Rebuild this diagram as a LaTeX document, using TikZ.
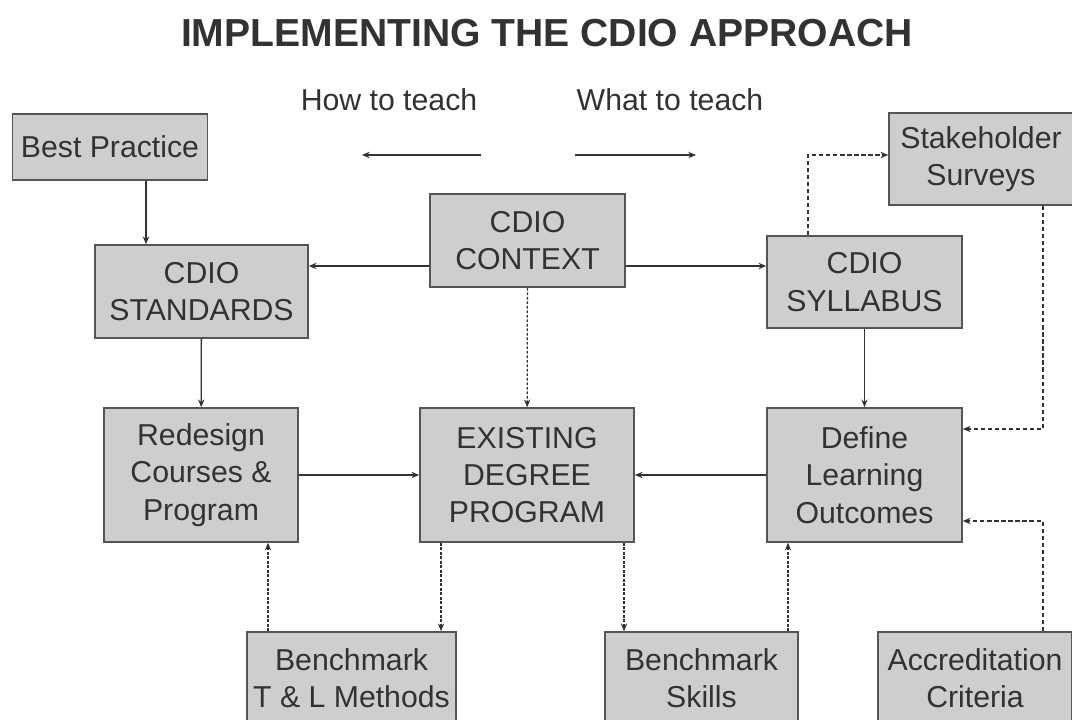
\documentclass[tikz,border=0pt]{standalone}
\usepackage{fontspec}
\setmainfont{Liberation Sans}
\usetikzlibrary{arrows.meta}
\definecolor{boxgray}{RGB}{206,206,206}
\definecolor{edgegray}{RGB}{85,85,85}
\definecolor{inkgray}{RGB}{50,50,50}
\tikzset{
    box/.style={draw=edgegray,line width=1.1pt,fill=boxgray,inner sep=0pt,align=center,text=inkgray,
        font=\fontsize{21.5}{26.5}\selectfont},
    link/.style={-{Stealth[length=5.5pt,width=4.5pt]},line width=0.9pt,draw=inkgray},
    fb/.style={link,dash pattern=on 3pt off 2pt},
    fine/.style={link,dash pattern=on 2pt off 1.2pt},
    caption/.style={text=inkgray,font=\fontsize{21.5}{26.5}\selectfont}
}

\begin{document}
\begin{tikzpicture}[x=0.025cm,y=-0.025cm]
  \useasboundingbox (0,0) rectangle (1072,720);
  \clip (0,0) rectangle (1072,720);

  % Title
  \node[text=inkgray,font=\bfseries\fontsize{27.8}{32}\selectfont] (title) at (547,33) {IMPLEMENTING THE CDIO APPROACH};
  \node[caption] (how) at (389,100) {How to teach};
  \node[caption] (what) at (670,100) {What to teach};
  \coordinate (howa) at (481,155);
  \coordinate (howb) at (362,155);
  \coordinate (whata) at (575,155);
  \coordinate (whatb) at (696,155);
  \draw[link] (howa) -- (howb);
  \draw[link] (whata) -- (whatb);

  % Top row
  \node[box,minimum width=4.875cm,minimum height=1.65cm] (best) at (110,147) {Best Practice};
  \node[box,minimum width=5.325cm,minimum height=2.325cm] (std) at (201.5,291.5) {CDIO\\STANDARDS};
  \node[box,minimum width=4.875cm,minimum height=2.325cm] (ctx) at (527.5,240.5) {CDIO\\CONTEXT};
  \node[box,minimum width=4.875cm,minimum height=2.3cm] (syl) at (864.5,282) {CDIO\\SYLLABUS};
  \node[box,minimum width=4.6cm,minimum height=2.3cm] (stake) at (981,159) {Stakeholder\\Surveys};

  % Middle row
  \node[box,minimum width=4.85cm,minimum height=3.35cm] (redo) at (201,475) {Redesign\\Courses \&\\Program};
  \node[box,minimum width=5.35cm,minimum height=3.35cm] (exist) at (527,475) {EXISTING\\DEGREE\\PROGRAM};
  \node[box,minimum width=4.875cm,minimum height=3.35cm] (def) at (864.5,475) {Define\\Learning\\Outcomes};

  % Bottom row
  \node[box,minimum width=5.225cm,minimum height=2.325cm] (tlm) at (351.5,678.5) {Benchmark\\T \& L Methods};
  \node[box,minimum width=4.825cm,minimum height=2.325cm] (skill) at (701.5,678.5) {Benchmark\\Skills};
  \node[box,minimum width=4.85cm,minimum height=2.325cm] (acc) at (975,678.5) {Accreditation\\Criteria};

  % Solid links
  \coordinate (bestx) at (146,0);
  \coordinate (rowa) at (0,266);
  \draw[link] (best.south -| bestx) -- (std.north -| bestx);
  \draw[link] (ctx.west |- rowa) -- (std.east |- rowa);
  \draw[link] (ctx.east |- rowa) -- (syl.west |- rowa);
  \draw[link] (std) -- (redo);
  \draw[link] (syl) -- (def);
  \draw[link] (redo) -- (exist);
  \draw[link] (def) -- (exist);

  % Dashed feedback
  \coordinate (sylx) at (808,155);
  \coordinate (railt) at (1043,429);
  \coordinate (railb) at (1043,521);
  \draw[fb] (syl.north -| sylx) |- (stake.west |- sylx);
  \draw[fb] (stake.south -| railt) |- (def.east |- railt);
  \draw[fb] (acc.north -| railb) |- (def.east |- railb);
  \draw[fine] (ctx) -- (exist);

  % Benchmarks
  \coordinate (tlx) at (268,0);
  \coordinate (exl) at (441,0);
  \coordinate (exr) at (624,0);
  \coordinate (defx) at (788,0);
  \draw[fine] (tlm.north -| tlx) -- (redo.south -| tlx);
  \draw[fine] (exist.south -| exl) -- (tlm.north -| exl);
  \draw[fine] (exist.south -| exr) -- (skill.north -| exr);
  \draw[fine] (skill.north -| defx) -- (def.south -| defx);
\end{tikzpicture}
\end{document}
